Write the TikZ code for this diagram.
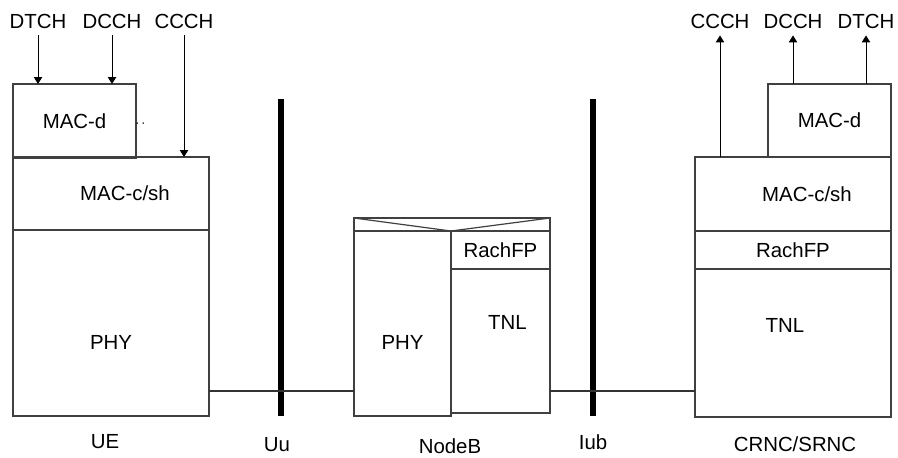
\documentclass[tikz,border=0pt]{standalone}
\usepackage{fontspec}
\setmainfont{Liberation Sans}
\usetikzlibrary{arrows.meta,positioning}
\tikzset{
  lyr/.style={draw=black!75, line width=0.6pt, anchor=north west, inner sep=0pt, outer sep=0pt},
  chan/.style={text height=7.5pt, text depth=0pt, inner xsep=0pt, inner ysep=3.25pt},
  tag/.style={inner sep=0pt},
  iface/.style={fill=black, minimum width=3pt, minimum height=158.5pt, inner sep=0pt, anchor=north},
  chanarr/.style={-{Triangle[length=3.5pt,width=4.2pt]}, line width=0.5pt},
  wire/.style={draw=black!80, line width=0.6pt}
}
\begin{document}
\begin{tikzpicture}[x=0.5pt, y=-0.5pt, font=\fontsize{10.2}{12}\selectfont]
\useasboundingbox (0,0) rectangle (898,457);
% UE side
\node[lyr, minimum width=61.5pt, minimum height=37pt, label=center:MAC-d] (uemacd) at (13,84) {};
\node[lyr, minimum width=98pt, minimum height=36.5pt, label={[xshift=7pt]center:MAC-c/sh}] (uemacc) at (13,157) {};
\node[lyr, minimum width=98pt, minimum height=93pt, label={[yshift=-9.5pt]center:PHY}] (uephy) at (13,230) {};
\fill ([xshift=0.6pt, yshift=-1pt]uemacd.east) circle (0.4pt);
\fill ([xshift=3.6pt, yshift=-1pt]uemacd.east) circle (0.4pt);
% NodeB
\node[lyr, minimum width=98pt, minimum height=6.5pt] (nbtop) at (354,218) {};
\node[lyr, minimum width=48.5pt, minimum height=92.5pt, label={[yshift=-9.5pt]center:PHY}] (nbphy) at (354,231) {};
\node[lyr, minimum width=49.5pt, minimum height=19pt, label=center:RachFP] (nbfp) at (451,231) {};
\node[lyr, minimum width=49.5pt, minimum height=72pt, label={[xshift=3.5pt, yshift=9.5pt]center:TNL}] (nbtnl) at (451,269) {};
\draw[draw=black!75, line width=0.6pt] (nbtop.north west) -- (nbphy.north east) -- (nbtop.north east);
% CRNC/SRNC side
\node[lyr, minimum width=61.5pt, minimum height=36.5pt, label=center:MAC-d] (rncmacd) at (768,84) {};
\node[lyr, minimum width=98pt, minimum height=37pt, label={[xshift=7pt]center:MAC-c/sh}] (rncmacc) at (695,157) {};
\node[lyr, minimum width=98pt, minimum height=19pt, label=center:RachFP] (rncfp) at (695,231) {};
\node[lyr, minimum width=98pt, minimum height=74pt, label={[xshift=-4pt, yshift=9pt]center:TNL}] (rnctnl) at (695,269) {};
% interfaces
\node[iface] (uu) at (281,99) {};
\node[iface] (iub) at (593,99) {};
\coordinate (uuw) at ([yshift=12.5pt]uephy.south east);
\coordinate (iubw) at ([yshift=11pt]nbtnl.south east);
\draw[wire] (uuw) -- (uuw -| nbphy.west);
\draw[wire] (iubw) -- (iubw -| rnctnl.west);
% logical channels
\node[chan] (uedtch) at (38,21) {DTCH};
\node[chan] (uedcch) at (112,21) {DCCH};
\node[chan] (uaccch) at (184,21) {CCCH};
\node[chan] (rncccch) at (720,21) {CCCH};
\node[chan] (rncdcch) at (793,21) {DCCH};
\node[chan] (rncdtch) at (866,21) {DTCH};
\draw[chanarr] (uedtch.south) -- (uedtch.south |- uemacd.north);
\draw[chanarr] (uedcch.south) -- (uedcch.south |- uemacd.north);
\draw[chanarr] (uaccch.south) -- (uaccch.south |- uemacc.north);
\draw[chanarr] (rncccch.south |- rncmacc.north) -- (rncccch.south);
\draw[chanarr] (rncdcch.south |- rncmacd.north) -- (rncdcch.south);
\draw[chanarr] (rncdtch.south |- rncmacd.north) -- (rncdtch.south);
% node names
\node[tag] (uename) at (105,442) {UE};
\node[tag] (uuname) at (277,445) {Uu};
\node[tag] (nbname) at (450,446) {NodeB};
\node[tag] (iubname) at (593,442) {Iub};
\node[tag] (rncname) at (795,444) {CRNC/SRNC};
\end{tikzpicture}
\end{document}
